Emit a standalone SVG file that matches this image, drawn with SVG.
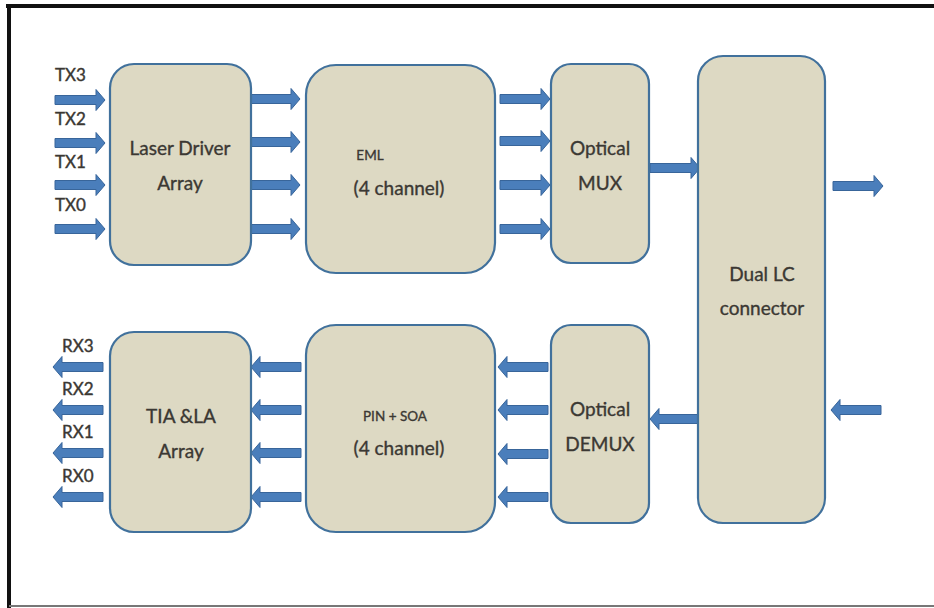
<svg xmlns="http://www.w3.org/2000/svg" xmlns:xlink="http://www.w3.org/1999/xlink" width="934" height="608" viewBox="0 0 934 608">
  <style>
    .box { fill: #ddd9c3; stroke: #41719c; stroke-width: 2.2; }
    .lbl { font-family: Lato, "Open Sans", "Liberation Sans", sans-serif; fill: #3b3833; stroke: #3b3833; stroke-width: 0.35; text-anchor: middle; }
    .big { font-size: 19px; }
    .small { font-size: 13.5px; }
    .pin { font-size: 17px; font-family: Lato, "Liberation Sans", sans-serif; fill: #3b3833; stroke: #3b3833; stroke-width: 0.4; }
    .arr { fill: #4a7ebb; stroke: #38659a; stroke-width: 1; }
  </style>
  <defs>
    <!-- block arrow, tip at origin, pointing right, 50px long -->
    <path id="arrow" d="M-50,-4.5 H-9 V-10.5 L0,0 L-9,10.5 V4.5 H-50 Z"/>
  </defs>

  <rect x="0" y="0" width="934" height="608" fill="#ffffff"/>
  <!-- page frame -->
  <g id="frame" fill="none">
    <line x1="6" y1="6" x2="934" y2="6" stroke="#111" stroke-width="4"/>
    <line x1="9" y1="4" x2="9" y2="608" stroke="#111" stroke-width="4"/>
    <line x1="9" y1="606" x2="934" y2="606" stroke="#777" stroke-width="2"/>
  </g>

  <g id="connectors" class="arr">
    <!-- TX inputs -->
    <use xlink:href="#arrow" transform="translate(105,100)"/>
    <use xlink:href="#arrow" transform="translate(105,143)"/>
    <use xlink:href="#arrow" transform="translate(105,185)"/>
    <use xlink:href="#arrow" transform="translate(105,229)"/>
    <!-- driver to EML -->
    <use xlink:href="#arrow" transform="translate(300,99)"/>
    <use xlink:href="#arrow" transform="translate(300,142)"/>
    <use xlink:href="#arrow" transform="translate(300,185)"/>
    <use xlink:href="#arrow" transform="translate(300,229)"/>
    <!-- EML to MUX -->
    <use xlink:href="#arrow" transform="translate(550,99)"/>
    <use xlink:href="#arrow" transform="translate(550,141)"/>
    <use xlink:href="#arrow" transform="translate(550,185)"/>
    <use xlink:href="#arrow" transform="translate(550,229)"/>
    <!-- MUX to connector -->
    <use xlink:href="#arrow" transform="translate(700,168)"/>
    <!-- line out -->
    <use xlink:href="#arrow" transform="translate(883,186)"/>
    <!-- line in -->
    <use xlink:href="#arrow" transform="translate(831,410) scale(-1,1)"/>
    <!-- connector to DEMUX -->
    <use xlink:href="#arrow" transform="translate(650,419) scale(-1,1)"/>
    <!-- DEMUX to PIN -->
    <use xlink:href="#arrow" transform="translate(498,367) scale(-1,1)"/>
    <use xlink:href="#arrow" transform="translate(498,410) scale(-1,1)"/>
    <use xlink:href="#arrow" transform="translate(498,454) scale(-1,1)"/>
    <use xlink:href="#arrow" transform="translate(498,497) scale(-1,1)"/>
    <!-- PIN to TIA -->
    <use xlink:href="#arrow" transform="translate(251,367) scale(-1,1)"/>
    <use xlink:href="#arrow" transform="translate(251,410) scale(-1,1)"/>
    <use xlink:href="#arrow" transform="translate(251,453) scale(-1,1)"/>
    <use xlink:href="#arrow" transform="translate(251,497) scale(-1,1)"/>
    <!-- RX outputs -->
    <use xlink:href="#arrow" transform="translate(53,367) scale(-1,1)"/>
    <use xlink:href="#arrow" transform="translate(53,410) scale(-1,1)"/>
    <use xlink:href="#arrow" transform="translate(53,453) scale(-1,1)"/>
    <use xlink:href="#arrow" transform="translate(53,497) scale(-1,1)"/>
  </g>

  <g id="port-labels" class="pin">
    <text x="55" y="81">TX3</text>
    <text x="55" y="125">TX2</text>
    <text x="55" y="168">TX1</text>
    <text x="55" y="211">TX0</text>
    <text x="62" y="352">RX3</text>
    <text x="62" y="395">RX2</text>
    <text x="62" y="438">RX1</text>
    <text x="62" y="482">RX0</text>
  </g>

  <g id="laser-driver">
    <rect class="box" x="110" y="64" width="141" height="201" rx="24"/>
    <text class="lbl big" x="180" y="155">Laser Driver</text>
    <text class="lbl big" x="180" y="190">Array</text>
  </g>

  <g id="eml">
    <rect class="box" x="306" y="65" width="189" height="208" rx="30"/>
    <text class="lbl small" x="370" y="160">EML</text>
    <text class="lbl big" x="399" y="195">(4 channel)</text>
  </g>

  <g id="optical-mux">
    <rect class="box" x="551" y="64" width="98" height="199" rx="20"/>
    <text class="lbl big" x="600" y="155">Optical</text>
    <text class="lbl big" x="600" y="190">MUX</text>
  </g>

  <g id="dual-lc">
    <rect class="box" x="698" y="56" width="127" height="467" rx="25"/>
    <text class="lbl big" x="762" y="281">Dual LC</text>
    <text class="lbl big" x="762" y="315">connector</text>
  </g>

  <g id="tia-la">
    <rect class="box" x="110" y="332" width="141" height="200" rx="24"/>
    <text class="lbl big" x="181" y="423">TIA &amp;LA</text>
    <text class="lbl big" x="181" y="458">Array</text>
  </g>

  <g id="pin-soa">
    <rect class="box" x="306" y="325" width="189" height="207" rx="30"/>
    <text class="lbl small" x="395" y="421">PIN + SOA</text>
    <text class="lbl big" x="399" y="455">(4 channel)</text>
  </g>

  <g id="optical-demux">
    <rect class="box" x="551" y="325" width="98" height="198" rx="20"/>
    <text class="lbl big" x="600" y="416">Optical</text>
    <text class="lbl big" x="600" y="451">DEMUX</text>
  </g>
</svg>
